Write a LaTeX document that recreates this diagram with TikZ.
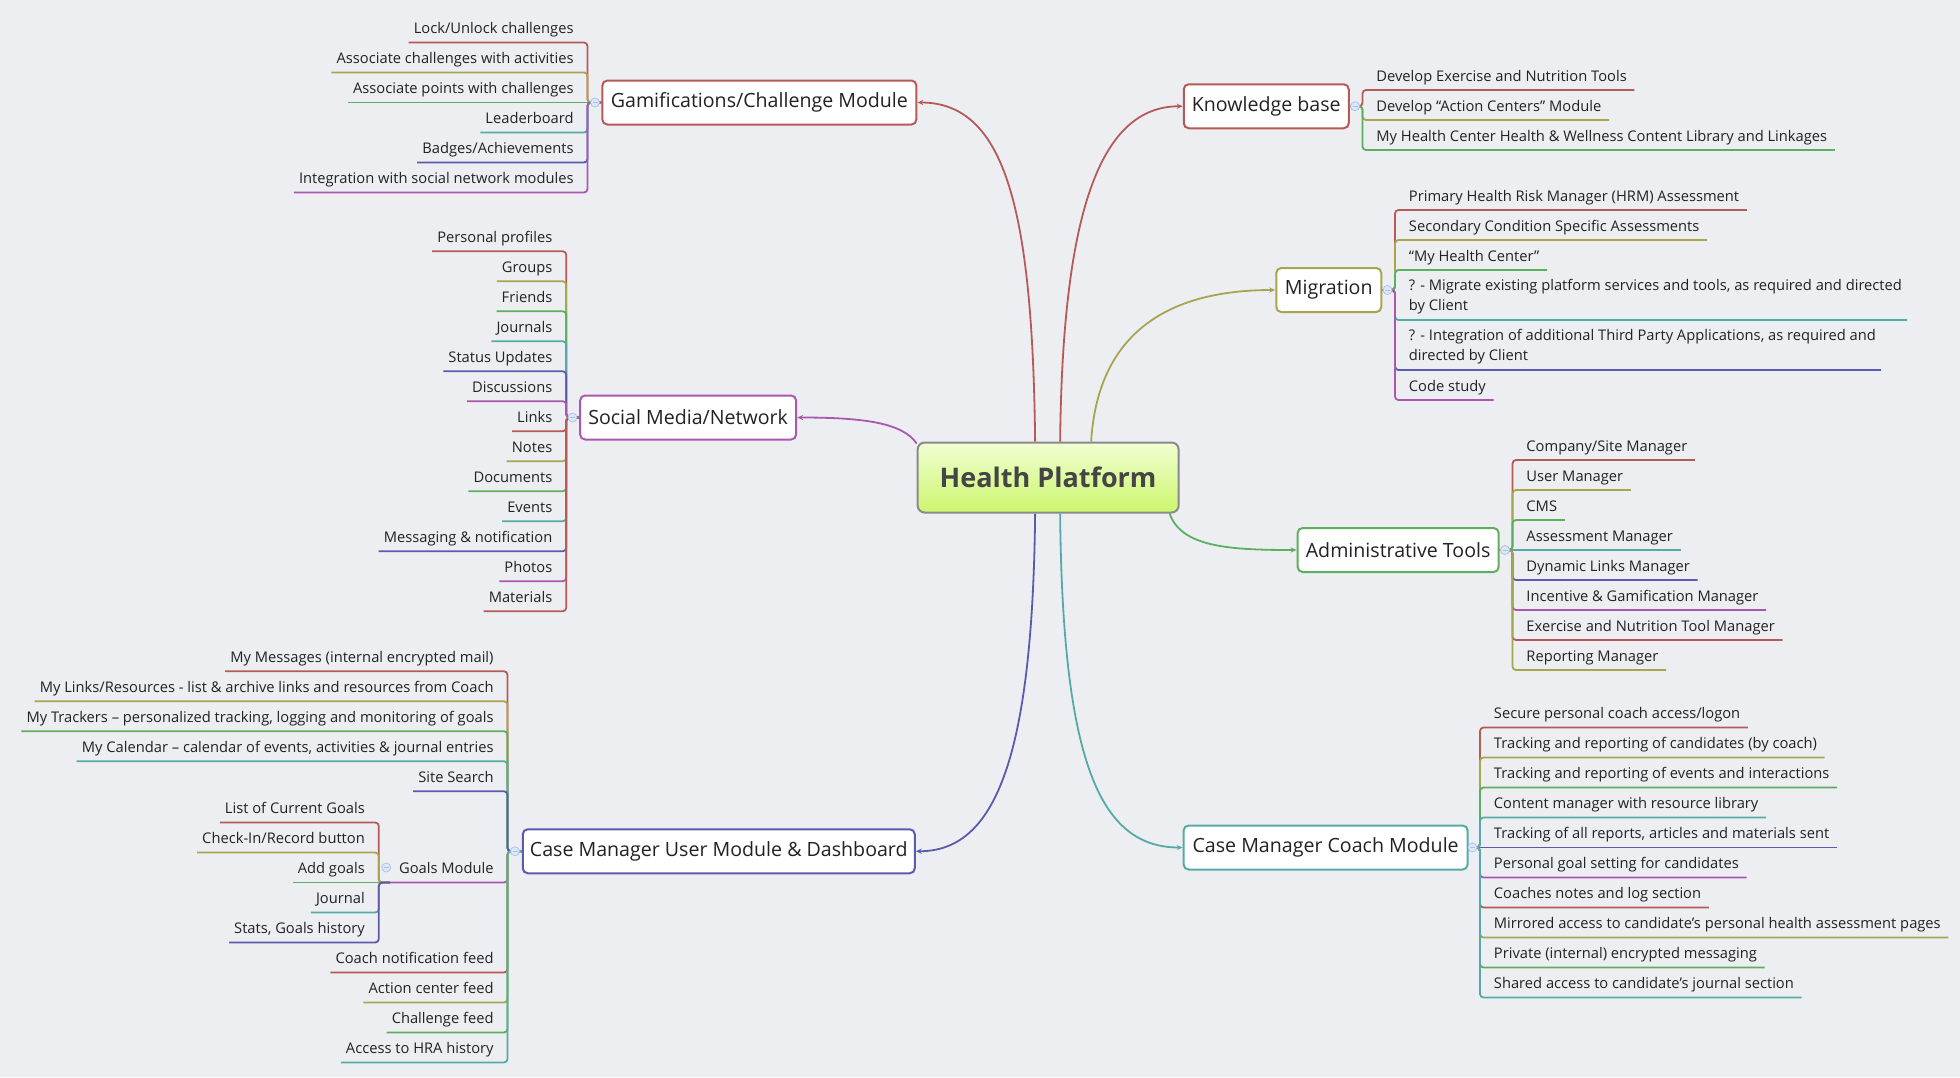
\documentclass[tikz,border=0pt]{standalone}
\usepackage{fontspec}
\setmainfont{Open Sans}
\usetikzlibrary{arrows.meta}
\pgfdeclarelayer{bg}
\pgfdeclarelayer{lines}
\pgfsetlayers{bg,lines,main}
\definecolor{bgc}{HTML}{EDEEF2}
\definecolor{cR}{HTML}{B55A57}
\definecolor{cO}{HTML}{A8A550}
\definecolor{cG}{HTML}{5DAF5D}
\definecolor{cT}{HTML}{55AAA8}
\definecolor{cB}{HTML}{5B5BAE}
\definecolor{cP}{HTML}{AA58AE}
\definecolor{cGray}{HTML}{8A8A8A}
\definecolor{hpTop}{HTML}{F0FFD2}
\definecolor{hpBot}{HTML}{CDF66E}
\definecolor{txt}{HTML}{222222}
\definecolor{hpText}{HTML}{454545}
\definecolor{foldB}{HTML}{A9C1EC}
\definecolor{foldF}{HTML}{DDE7F8}
\tikzset{
  leaf/.style={inner sep=0pt, font=\fontsize{14.7}{17}\selectfont, text=txt},
  leafline/.style={line width=1.8pt, rounded corners=3.5pt},
  branch/.style={draw, fill=white, line width=2pt, rounded corners=5pt, inner xsep=4pt,
    minimum height=44pt, font=\fontsize{19.6}{22}\selectfont, text=txt},
  hp/.style={draw=cGray, line width=2pt, rounded corners=7pt, top color=hpTop, bottom color=hpBot,
    minimum width=261pt, minimum height=70pt, font=\bfseries\fontsize{27}{30}\selectfont, text=hpText},
  mainline/.style={line width=1.8pt, -{Stealth[length=6pt,width=5pt]}},
  fold/.style={circle, draw=foldB, fill=foldF, minimum size=9pt, inner sep=0pt, line width=0.7pt},
}
% left leaf: name, start, spine x, junction y, leaf y, colour, text
\newcommand\leafL[7]{%
  \node[leaf,anchor=base east] (#1) at (#3-11,#5-7) {#7};
  \begin{pgfonlayer}{lines}
  \ifdim #4pt=#5pt
    \draw[leafline,draw=#6] (#2) -- (#1.west |- 0,#5) -- ++(-4,0);
  \else
    \draw[leafline,draw=#6] (#2) -- (#3,#4) -- (#3,#5) -- (#1.west |- 0,#5) -- ++(-4,0);
  \fi
  \end{pgfonlayer}}
% right leaf
\newcommand\leafR[7]{%
  \node[leaf,anchor=base west] (#1) at (#3+11,#5-7) {#7};
  \begin{pgfonlayer}{lines}
  \ifdim #4pt=#5pt
    \draw[leafline,draw=#6] (#2) -- (#1.east |- 0,#5) -- ++(6,0);
  \else
    \draw[leafline,draw=#6] (#2) -- (#3,#4) -- (#3,#5) -- (#1.east |- 0,#5) -- ++(6,0);
  \fi
  \end{pgfonlayer}}
\begin{document}
\begin{tikzpicture}[x=1.25pt,y=-1.25pt]
\begin{pgfonlayer}{bg}
\fill[bgc] (0,0) rectangle (1568,861.6);
\end{pgfonlayer}
\useasboundingbox (0,0) rectangle (1568,861.6);

% central and branch nodes
\node[hp] (hp) at (838.5,382) {Health Platform};
\node[branch,draw=cR,minimum width=314pt] (gam) at (607.5,82) {Gamifications/Challenge Module};
\node[branch,draw=cP,minimum width=216pt] (soc) at (550.5,334) {Social Media/Network};
\node[branch,draw=cB,minimum width=392pt] (usr) at (575,681) {Case Manager User Module \& Dashboard};
\node[branch,draw=cR,minimum width=165pt] (kb) at (1013,85) {Knowledge base};
\node[branch,draw=cO,minimum width=105pt] (mig) at (1063,232) {Migration};
\node[branch,draw=cG,minimum width=201pt] (adm) at (1118.5,440) {Administrative Tools};
\node[branch,draw=cT,minimum width=284pt] (cch) at (1060.5,678) {Case Manager Coach Module};

% main connectors
\begin{pgfonlayer}{lines}
\draw[mainline,draw=cR] ([xshift=-13pt]hp.north) .. controls (826,170) and (805,82) .. (gam.east);
\draw[mainline,draw=cR] ([xshift=12pt]hp.north) .. controls (850,170) and (880,85) .. (kb.west);
\draw[mainline,draw=cO] ([xshift=43pt]hp.north) .. controls (878,270) and (930,232) .. (mig.west);
\draw[mainline,draw=cG] ([xshift=-10pt]hp.south east) .. controls (945,438) and (985,440) .. (adm.west);
\draw[mainline,draw=cT] ([xshift=12pt]hp.south) .. controls (850,610) and (880,678) .. (cch.west);
\draw[mainline,draw=cB] ([xshift=-13pt]hp.south) .. controls (826,610) and (795,681) .. (usr.east);
\draw[mainline,draw=cP] ([yshift=-2pt]hp.north west) .. controls (722,338) and (690,334) .. (soc.east);
\end{pgfonlayer}

% Gamification
\leafL{g1}{gam.west}{470}{82}{34}{cR}{Lock/Unlock challenges}
\leafL{g2}{gam.west}{470}{82}{58}{cO}{Associate challenges with activities}
\leafL{g3}{gam.west}{470}{82}{82}{cG}{Associate points with challenges}
\leafL{g4}{gam.west}{470}{82}{106}{cT}{Leaderboard}
\leafL{g5}{gam.west}{470}{82}{130}{cB}{Badges/Achievements}
\leafL{g6}{gam.west}{470}{82}{154}{cP}{Integration with social network modules}

% Social media
\leafL{s1}{soc.west}{453}{334}{201}{cR}{Personal profiles}
\leafL{s2}{soc.west}{453}{334}{225}{cO}{Groups}
\leafL{s3}{soc.west}{453}{334}{249}{cG}{Friends}
\leafL{s4}{soc.west}{453}{334}{273}{cT}{Journals}
\leafL{s5}{soc.west}{453}{334}{297}{cB}{Status Updates}
\leafL{s6}{soc.west}{453}{334}{321}{cP}{Discussions}
\leafL{s7}{soc.west}{453}{334}{345}{cR}{Links}
\leafL{s8}{soc.west}{453}{334}{369}{cO}{Notes}
\leafL{s9}{soc.west}{453}{334}{393}{cG}{Documents}
\leafL{s10}{soc.west}{453}{334}{417}{cT}{Events}
\leafL{s11}{soc.west}{453}{334}{441}{cB}{Messaging \& notification}
\leafL{s12}{soc.west}{453}{334}{465}{cP}{Photos}
\leafL{s13}{soc.west}{453}{334}{489}{cR}{Materials}

% Case Manager User Module
\leafL{u1}{usr.west}{406}{681}{537}{cR}{My Messages (internal encrypted mail)}
\leafL{u2}{usr.west}{406}{681}{561}{cO}{My Links/Resources - list \& archive links and resources from Coach}
\leafL{u3}{usr.west}{406}{681}{585}{cG}{My Trackers – personalized tracking, logging and monitoring of goals}
\leafL{u4}{usr.west}{406}{681}{609}{cT}{My Calendar – calendar of events, activities \& journal entries}
\leafL{u5}{usr.west}{406}{681}{633}{cB}{Site Search}
\node[leaf,anchor=base east] (goals) at (395,699) {Goals Module};
\coordinate (gj) at (312,706);
\begin{pgfonlayer}{lines}
\draw[leafline,draw=cP] (usr.west) -- (406,681) -- (406,706) -- (goals.west |- 0,706) -- (303,706);
\end{pgfonlayer}
\leafL{q1}{gj}{303}{706}{658}{cR}{List of Current Goals}
\leafL{q2}{gj}{303}{706}{682}{cO}{Check-In/Record button}
\leafL{q3}{gj}{303}{706}{706}{cG}{Add goals}
\leafL{q4}{gj}{303}{706}{730}{cT}{Journal}
\leafL{q5}{gj}{303}{706}{754}{cB}{Stats, Goals history}
\leafL{u7}{usr.west}{406}{681}{778}{cR}{Coach notification feed}
\leafL{u8}{usr.west}{406}{681}{802}{cO}{Action center feed}
\leafL{u9}{usr.west}{406}{681}{826}{cG}{Challenge feed}
\leafL{u10}{usr.west}{406}{681}{850}{cT}{Access to HRA history}

% Knowledge base
\leafR{k1}{kb.east}{1090}{85}{72}{cR}{Develop Exercise and Nutrition Tools}
\leafR{k2}{kb.east}{1090}{85}{96}{cO}{Develop “Action Centers” Module}
\leafR{k3}{kb.east}{1090}{85}{120}{cG}{My Health Center Health \& Wellness Content Library and Linkages}

% Migration
\leafR{m1}{mig.east}{1116}{232}{168}{cR}{Primary Health Risk Manager (HRM) Assessment}
\leafR{m2}{mig.east}{1116}{232}{192}{cO}{Secondary Condition Specific Assessments}
\leafR{m3}{mig.east}{1116}{232}{216}{cG}{“My Health Center”}
\node[leaf,anchor=south west,align=left,font=\fontsize{14.7}{20}\selectfont] (m4) at (1127,251.7)
  {? - Migrate existing platform services and tools, as required and directed\\by Client};
\begin{pgfonlayer}{lines}
\draw[leafline,draw=cT] (mig.east) -- (1116,232) -- (1116,256) -- (m4.east |- 0,256) -- ++(4,0);
\end{pgfonlayer}
\node[leaf,anchor=south west,align=left,font=\fontsize{14.7}{20}\selectfont] (m5) at (1127,291.7)
  {? - Integration of additional Third Party Applications, as required and\\directed by Client};
\begin{pgfonlayer}{lines}
\draw[leafline,draw=cB] (mig.east) -- (1116,232) -- (1116,296) -- (m5.east |- 0,296) -- ++(4,0);
\end{pgfonlayer}
\leafR{m6}{mig.east}{1116}{232}{320}{cP}{Code study}

% Administrative tools
\leafR{a1}{adm.east}{1210}{440}{368}{cR}{Company/Site Manager}
\leafR{a2}{adm.east}{1210}{440}{392}{cO}{User Manager}
\leafR{a3}{adm.east}{1210}{440}{416}{cG}{CMS}
\leafR{a4}{adm.east}{1210}{440}{440}{cT}{Assessment Manager}
\leafR{a5}{adm.east}{1210}{440}{464}{cB}{Dynamic Links Manager}
\leafR{a6}{adm.east}{1210}{440}{488}{cP}{Incentive \& Gamification Manager}
\leafR{a7}{adm.east}{1210}{440}{512}{cR}{Exercise and Nutrition Tool Manager}
\leafR{a8}{adm.east}{1210}{440}{536}{cO}{Reporting Manager}

% Coach module
\leafR{c1}{cch.east}{1184}{678}{582}{cR}{Secure personal coach access/logon}
\leafR{c2}{cch.east}{1184}{678}{606}{cO}{Tracking and reporting of candidates (by coach)}
\leafR{c3}{cch.east}{1184}{678}{630}{cG}{Tracking and reporting of events and interactions}
\leafR{c4}{cch.east}{1184}{678}{654}{cT}{Content manager with resource library}
\leafR{c5}{cch.east}{1184}{678}{678}{cB}{Tracking of all reports, articles and materials sent}
\leafR{c6}{cch.east}{1184}{678}{702}{cP}{Personal goal setting for candidates}
\leafR{c7}{cch.east}{1184}{678}{726}{cR}{Coaches notes and log section}
\leafR{c8}{cch.east}{1184}{678}{750}{cO}{Mirrored access to candidate’s personal health assessment pages}
\leafR{c9}{cch.east}{1184}{678}{774}{cG}{Private (internal) encrypted messaging}
\leafR{c10}{cch.east}{1184}{678}{798}{cT}{Shared access to candidate’s journal section}

% fold markers
\foreach \n/\x/\y in {f1/476/82, f2/458/334, f3/412/681, f4/309/694, f5/1084/85, f6/1110/232, f7/1204/440, f8/1178/678}{
  \node[fold] (\n) at (\x,\y) {};
  \draw[foldB,line width=0.7pt] ([xshift=-2.5pt]\n.center) -- ([xshift=2.5pt]\n.center);
}
\end{tikzpicture}
\end{document}
